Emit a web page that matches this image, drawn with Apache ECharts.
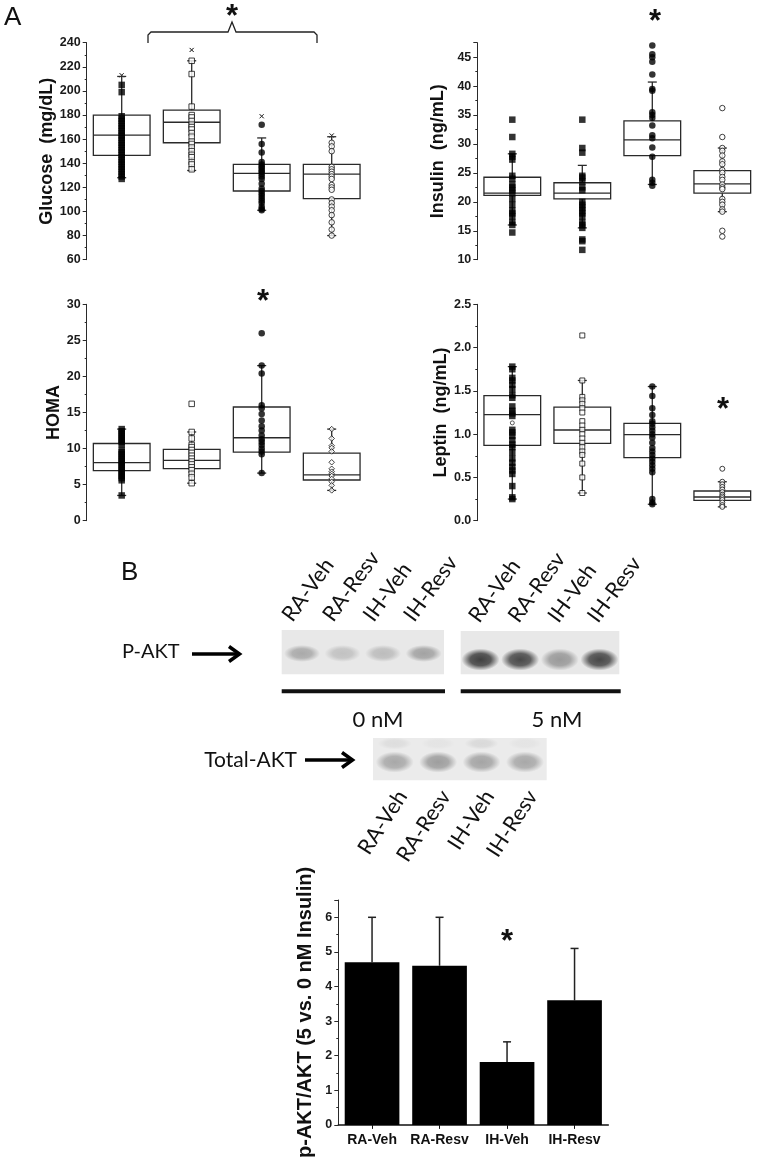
<!DOCTYPE html>
<html><head><meta charset="utf-8">
<script src="https://cdn.jsdelivr.net/npm/echarts@6/dist/echarts.min.js"></script>
<style>html,body{margin:0;padding:0;background:#fff}#c{width:762px;height:1160px}</style>
</head><body><div id="c"></div>
<script>
const groups = ['RA-Veh','RA-Resv','IH-Veh','IH-Resv'];

// box stats: [lowWhisker, Q1, median, Q3, highWhisker]
const glucoseBox = [[128,146.5,163.4,180,212],[134,157,174,184,225],[101,117,131.6,139,161],[80,110.6,131,139,162]];
const glucoseMaxMarks = [213,234,179,163];
const glucosePts = [
  [205,199,179,177,175,173,171,169,167,165,163,161,159,157,155,153,151,149,147,145,143,141,139,137,135,133,131,129,127],
  [225,214,187,180,178,175,172,170,168,165,162,158,156,153,150,147,145,141,139,135],
  [172,156,149,141,139,137,136,134,133,131,129,127,123,119,117,115,113,111,109,107,104,102,101],
  [157,154,150,137,135,133,131,129,127,122,120,118,110,107,104,101,97,91,85,80]
];
const insulinBox = [[16,21.1,21.5,24.25,28.3],[15.5,20.5,21.5,23.3,26.3],[23,28,30.7,34,40.7],[18.3,21.5,23.1,25.4,29.3]];
const insulinPts = [
  [34.2,31.2,28.3,27.8,27.3,24.5,24,23,22.5,22,21.5,20.5,19.5,18.5,18,17.5,16.5,16,14.7],
  [34.2,29.3,28.5,24.5,24.2,23.5,22.5,22,20,19.5,19,18.5,18,17.5,16.5,16,15.5,13.5,13.2,11.7],
  [47,45.5,45,44.2,42,39.5,39.2,35.5,35,34.5,33.2,31.5,31,29.4,27.8,23.8,23.3,22.8],
  [36.2,31.2,29.3,28.8,28,27,26.5,25.5,25,24.3,23.8,23,22.5,22.2,20.5,20,19.5,18.7,18.3,15,14]
];
const homaBox = [[3.5,6.93,8.04,10.7,12.7],[5.2,7.21,8.37,9.9,12.3],[6.6,9.52,11.5,15.76,21.5],[4.2,5.64,6.34,9.38,12.7]];
const homaPts = [
  [12.7,12.4,12.1,11.8,11.5,11.2,10.9,10.6,9.8,9.5,9.2,8.9,8.6,8.3,8,7.7,7.4,7.1,6.8,6.5,6.2,5.9,5.6,3.5],
  [16.2,12.3,11.4,10.5,10.2,9.8,9.4,9.0,8.6,8.2,7.8,7.4,7.0,6.5,6.0,5.2],
  [26,21.5,20.4,16,15.6,14.8,13.9,13.1,12.5,11.8,11.3,10.9,10.5,10,9.6,9.2,6.6],
  [12.7,11.4,10.4,10.1,9.6,8.1,7.2,6.8,6.5,6.2,5.8,5.4,4.9,4.2]
];
const leptinBox = [[0.25,0.871,1.225,1.444,1.78],[0.32,0.894,1.048,1.313,1.62],[0.19,0.728,0.994,1.125,1.55],[0.16,0.235,0.274,0.343,0.45]];
const leptinPts = [
  [1.78,1.75,1.65,1.62,1.57,1.52,1.45,1.42,1.32,1.27,1.24,1.21,1.05,1.02,0.98,0.93,0.88,0.85,0.79,0.72,0.67,0.62,0.58,0.54,0.4,0.27,0.25],
  [2.14,1.62,1.43,1.39,1.35,1.3,1.25,1.15,1.1,1.05,1.0,0.95,0.9,0.85,0.8,0.76,0.66,0.5,0.32],
  [1.55,1.44,1.3,1.22,1.15,1.12,1.08,1.04,1.0,0.96,0.9,0.84,0.8,0.76,0.72,0.68,0.64,0.6,0.56,0.25,0.21,0.19],
  [0.6,0.45,0.42,0.39,0.36,0.33,0.3,0.28,0.26,0.24,0.21,0.18,0.16]
];
const leptinMeanMark = [1.13, null, null, null];

// Western blot band intensities (0..1)
const pAkt0nM = [0.36, 0.22, 0.25, 0.4];
const pAkt5nM = [0.97, 0.92, 0.45, 0.93];
const totalAkt = [0.38, 0.44, 0.4, 0.38];
const totalAktUpper = [0.08, 0.04, 0.1, 0.04];

// p-AKT/AKT bars
const barMeans = [4.7, 4.6, 1.82, 3.6];
const barUpper = [6.0, 6.0, 2.4, 5.1];

const FONT = 'Liberation Sans';
const BLOT_FONT = 'Lato';
const INK = '#2a2a2a';

const markerSets = {
  glucose: [['rect',true],['rect',false],['circle',true],['circle',false]],
  insulin: [['rect',true],['rect',true],['circle',true],['circle',false]],
  homa:    [['rect',true],['rect',false],['circle',true],['diamond',false]],
  leptin:  [['rect',true],['rect',false],['circle',true],['circle',false]]
};

const grids = [
  {left:86.7, top:42.7, width:280, height:217},
  {left:477.3, top:42.7, width:280, height:217},
  {left:86.7, top:304.3, width:280, height:216.4},
  {left:477.3, top:304.3, width:280, height:216.4},
  {left:338.3, top:900, width:270, height:227.3},
  {left:281.7, top:630, width:162.3, height:44.3, show:true, backgroundColor:'#e8e8e8', borderWidth:0},
  {left:460.7, top:631, width:158.6, height:43.3, show:true, backgroundColor:'#e8e8e8', borderWidth:0},
  {left:373, top:738, width:173.7, height:42.3, show:true, backgroundColor:'#ebebeb', borderWidth:0},
  {left:266.7, top:630, width:162.3, height:44.3},
  {left:453.7, top:631, width:158.6, height:43.3},
  {left:380.6, top:738, width:173.7, height:42.3}
];

function hiddenCat(gi) {
  return {type:'category', gridIndex:gi, data:groups, show:false, boundaryGap:true};
}
function valAxis(gi, min, max, interval, name, nameGap, nameSize, fmt) {
  return {
    type:'value', gridIndex:gi, min:min, max:max, interval:interval,
    name:name, nameLocation:'middle', nameGap:nameGap,
    nameTextStyle:{fontFamily:FONT, fontWeight:'bold', fontSize:nameSize, color:'#111'},
    axisLine:{show:true, lineStyle:{color:INK, width:1}},
    axisTick:{show:true, length:4, lineStyle:{color:INK, width:1}},
    minorTick:{show:true, splitNumber:2, length:2, lineStyle:{color:INK, width:1}},
    splitLine:{show:false}, minorSplitLine:{show:false},
    axisLabel:{fontFamily:FONT, fontWeight:'bold', fontSize:12.5, color:'#1a1a1a', margin:6, formatter:fmt}
  };
}
function stepFmt(step, dec) {
  return function(v){ const r = v/step; return Math.abs(r-Math.round(r))<1e-6 ? Number(v).toFixed(dec) : ''; };
}
function laneAxis(gi, pos, rot, margin) {
  return {type:'category', gridIndex:gi, data:groups, position:pos, boundaryGap:true,
    axisLine:{show:false}, axisTick:{show:false},
    axisLabel:{rotate:rot, interval:0, margin:margin, fontFamily:BLOT_FONT, fontSize:21.5, color:'#111'}};
}

const xAxes = [
  hiddenCat(0), hiddenCat(1), hiddenCat(2), hiddenCat(3),
  {type:'category', gridIndex:4, data:groups, boundaryGap:true,
   axisLine:{show:true, lineStyle:{color:'#111', width:1.5}},
   axisTick:{show:true, alignWithLabel:true, length:4, lineStyle:{color:'#111'}},
   axisLabel:{fontFamily:FONT, fontWeight:'bold', fontSize:14, color:'#111', margin:8, interval:0}},
  hiddenCat(5), hiddenCat(6), hiddenCat(7),
  laneAxis(8, 'top', 54, 11),
  laneAxis(9, 'top', 54, 11),
  laneAxis(10, 'bottom', 57, 12)
];

const yAxes = [
  valAxis(0, 60, 240, 20, 'Glucose  (mg/dL)', 30, 18, stepFmt(20,0)),
  valAxis(1, 10, 47.5, 5, 'Insulin  (ng/mL)', 30, 18, stepFmt(5,0)),
  valAxis(2, 0, 30, 5, 'HOMA', 24, 18, stepFmt(5,0)),
  valAxis(3, 0, 2.5, 0.5, 'Leptin  (ng/mL)', 27, 18, stepFmt(0.5,1)),
  valAxis(4, 0, 6.5, 1, 'p-AKT/AKT (5 vs. 0 nM Insulin)', 23, 20, stepFmt(1,0))
];
for (let g = 5; g <= 10; g++) yAxes.push({type:'value', gridIndex:g, min:0, max:1, show:false});

function boxSeries(gi, box) {
  return {
    type:'custom', xAxisIndex:gi, yAxisIndex:gi, silent:true, z:2,
    data: box.map((b,k)=>[k].concat(b)),
    encode:{x:0, y:[1,2,3,4,5]},
    renderItem: function(params, api) {
      const k = api.value(0);
      const lo = api.coord([k, api.value(1)]);
      const q1 = api.coord([k, api.value(2)]);
      const md = api.coord([k, api.value(3)]);
      const q3 = api.coord([k, api.value(4)]);
      const hi = api.coord([k, api.value(5)]);
      const w = api.size([1,0])[0]*0.81;
      const cx = lo[0], cap = 4.5;
      const st = {stroke:'#2a2a2a', lineWidth:1.3, fill:null};
      return {type:'group', children:[
        {type:'line', shape:{x1:cx,y1:lo[1],x2:cx,y2:q1[1]}, style:st},
        {type:'line', shape:{x1:cx,y1:q3[1],x2:cx,y2:hi[1]}, style:st},
        {type:'line', shape:{x1:cx-cap,y1:lo[1],x2:cx+cap,y2:lo[1]}, style:st},
        {type:'line', shape:{x1:cx-cap,y1:hi[1],x2:cx+cap,y2:hi[1]}, style:st},
        {type:'rect', shape:{x:cx-w/2,y:q3[1],width:w,height:q1[1]-q3[1]}, style:{stroke:'#2a2a2a', lineWidth:1.3, fill:'rgba(255,255,255,0)'}},
        {type:'line', shape:{x1:cx-w/2,y1:md[1],x2:cx+w/2,y2:md[1]}, style:st}
      ]};
    }
  };
}
function pointSeries(gi, pts, markers, sizeFilled, sizeOpen) {
  return pts.map((arr,k)=>{
    const m = markers[k];
    return {
      type:'scatter', xAxisIndex:gi, yAxisIndex:gi, silent:true, z:3,
      symbol:m[0], symbolSize: m[1] ? sizeFilled : sizeOpen,
      itemStyle: m[1] ? {color:'#000', borderWidth:0} : {color:'#fff', borderColor:'#111', borderWidth:1},
      data: arr.map(v=>[k, v])
    };
  });
}

const series = [];
series.push(boxSeries(0, glucoseBox));
series.push(...pointSeries(0, glucosePts, markerSets.glucose, 6.5, 5.5));
series.push({
  type:'scatter', xAxisIndex:0, yAxisIndex:0, silent:true, z:3,
  symbol:'path://M0,0L10,10L5,5L10,0L0,10L5,5Z', symbolSize:4,
  itemStyle:{color:'none', borderColor:'#333', borderWidth:1},
  data: glucoseMaxMarks.map((v,k)=>[k,v])
});
series.push(boxSeries(1, insulinBox));
series.push(...pointSeries(1, insulinPts, markerSets.insulin, 6.5, 5.5));
series.push(boxSeries(2, homaBox));
series.push(...pointSeries(2, homaPts, markerSets.homa, 6.5, 5.5));
series.push(boxSeries(3, leptinBox));
series.push(...pointSeries(3, leptinPts, markerSets.leptin, 6.5, 5));
series.push({
  type:'scatter', xAxisIndex:3, yAxisIndex:3, silent:true, z:4,
  symbol:'circle', symbolSize:4, itemStyle:{color:'#fff', borderColor:'#333', borderWidth:1},
  data: leptinMeanMark.map((v,k)=>v==null?null:[k,v]).filter(Boolean)
});

// bar chart
series.push({
  type:'bar', xAxisIndex:4, yAxisIndex:4, silent:true, barWidth:'81%',
  itemStyle:{color:'#000'}, data: barMeans
});
series.push({
  type:'custom', xAxisIndex:4, yAxisIndex:4, silent:true, z:1,
  data: barMeans.map((m,k)=>[k, m, barUpper[k]]),
  encode:{x:0, y:[1,2]},
  renderItem: function(params, api) {
    const k = api.value(0);
    const a = api.coord([k, api.value(1)]);
    const b = api.coord([k, api.value(2)]);
    const st = {stroke:'#222', lineWidth:1.5};
    return {type:'group', children:[
      {type:'line', shape:{x1:a[0],y1:a[1],x2:b[0],y2:b[1]}, style:st},
      {type:'line', shape:{x1:b[0]-4,y1:b[1],x2:b[0]+4,y2:b[1]}, style:st}
    ]};
  }
});

// blot bands
function bandGradient(a) {
  return new echarts.graphic.RadialGradient(0.5, 0.5, 0.5, [
    {offset:0, color:'rgba(15,15,15,'+a+')'},
    {offset:0.55, color:'rgba(15,15,15,'+(a*0.85).toFixed(3)+')'},
    {offset:1, color:'rgba(15,15,15,0)'}
  ]);
}
function bandSeries(gi, vals, yPos, w, h) {
  return {
    type:'scatter', xAxisIndex:gi, yAxisIndex:gi, silent:true, symbol:'circle', symbolSize:[w,h],
    data: vals.map((a,k)=>({value:[k, yPos], itemStyle:{color:bandGradient(a)}}))
  };
}
series.push(bandSeries(5, pAkt0nM, 0.47, 36, 17));
series.push(bandSeries(6, pAkt5nM, 0.34, 38, 22));
series.push(bandSeries(7, totalAkt, 0.43, 38, 21));
series.push(bandSeries(7, totalAktUpper, 0.87, 34, 12));

const txt = (x,y,text,size,opts)=>({type:'text', x:x, y:y, silent:true,
  style:Object.assign({text:text, fontSize:size, fontFamily:FONT, fill:'#111'}, opts||{})});

const graphic = [
  txt(4, 18, 'A', 26, {verticalAlign:'middle'}),
  txt(121, 573, 'B', 26, {verticalAlign:'middle'}),
  {type:'polyline', silent:true, shape:{points:[[148,43],[148,35],[151,32],[228,32],[232,22],[236,32],[314,32],[317,35],[317,43]]},
   style:{stroke:'#222', lineWidth:1.3, fill:null}},
  txt(232, 17, '*', 31, {fontWeight:'bold', align:'center', verticalAlign:'middle'}),
  txt(655, 22, '*', 31, {fontWeight:'bold', align:'center', verticalAlign:'middle'}),
  txt(263, 302, '*', 31, {fontWeight:'bold', align:'center', verticalAlign:'middle'}),
  txt(723, 410, '*', 31, {fontWeight:'bold', align:'center', verticalAlign:'middle'}),
  txt(507, 942, '*', 31, {fontWeight:'bold', align:'center', verticalAlign:'middle'}),
  txt(122, 652, 'P-AKT', 20, {fontFamily:BLOT_FONT, verticalAlign:'middle'}),
  txt(297, 760, 'Total-AKT', 21, {fontFamily:BLOT_FONT, align:'right', verticalAlign:'middle'}),
  txt(378, 720, '0 nM', 22, {fontFamily:BLOT_FONT, align:'center', verticalAlign:'middle'}),
  txt(557, 720, '5 nM', 22, {fontFamily:BLOT_FONT, align:'center', verticalAlign:'middle'}),
  {type:'line', silent:true, shape:{x1:192,y1:654,x2:238,y2:654}, style:{stroke:'#000', lineWidth:3.5}},
  {type:'polyline', silent:true, shape:{points:[[229,646.5],[239.5,654],[229,661.5]]}, style:{stroke:'#000', lineWidth:3.5, fill:null}},
  {type:'line', silent:true, shape:{x1:305,y1:760,x2:351,y2:760}, style:{stroke:'#000', lineWidth:3.5}},
  {type:'polyline', silent:true, shape:{points:[[342,752.5],[352.5,760],[342,767.5]]}, style:{stroke:'#000', lineWidth:3.5, fill:null}},
  {type:'rect', silent:true, shape:{x:281.7, y:689.3, width:163.3, height:4}, style:{fill:'#111'}},
  {type:'rect', silent:true, shape:{x:460.7, y:689.3, width:160, height:4}, style:{fill:'#111'}}
];

const chart = echarts.init(document.getElementById('c'), null, {renderer:'canvas', width:762, height:1160});
chart.setOption({
  animation:false, backgroundColor:'#fff',
  grid:grids, xAxis:xAxes, yAxis:yAxes, series:series, graphic:graphic
});
</script></body></html>
